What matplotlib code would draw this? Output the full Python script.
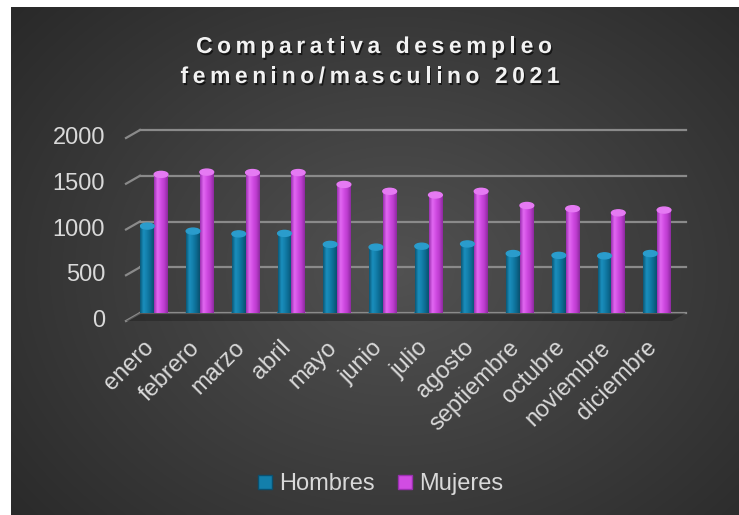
import numpy as np
import matplotlib
matplotlib.use("Agg")
import matplotlib.pyplot as plt
from matplotlib.patches import Ellipse
from matplotlib.lines import Line2D
from matplotlib.colors import LinearSegmentedColormap
import matplotlib.patheffects as pe
from matplotlib.transforms import offset_copy

plt.rcParams['font.family'] = ['Liberation Sans', 'DejaVu Sans']

# data
meses = ['enero', 'febrero', 'marzo', 'abril', 'mayo', 'junio', 'julio',
         'agosto', 'septiembre', 'octubre', 'noviembre', 'diciembre']
hombres = [950, 895, 865, 870, 750, 720, 730, 755, 650, 630, 625, 650]
mujeres = [1515, 1540, 1535, 1535, 1405, 1330, 1290, 1330, 1175, 1140, 1095, 1125]
yticks = [0, 500, 1000, 1500, 2000]
series = ['Hombres', 'Mujeres']

W, H = 739, 515
txt = '#d9d9d9'
fig = plt.figure(figsize=(W / 100, H / 100), dpi=100, facecolor='white')

# dark radial background
bg = fig.add_axes([11 / W, 0, (W - 11) / W, (H - 7) / H])
bg.axis('off')
yy, xx = np.mgrid[0:1:300j, 0:1:400j]
r = np.sqrt(((xx - 0.53) / 0.75) ** 2 + ((yy - 0.52) / 0.85) ** 2)
shade = np.clip(0.32 - 0.17 * r, 0.15, 0.33)
bg.imshow(np.dstack([shade] * 3), extent=[0, 1, 0, 1], aspect='auto', interpolation='bicubic')
bg.set_xlim(0, 1)
bg.set_ylim(0, 1)

ax = fig.add_axes([140 / W, (H - 313) / H, 546 / W, 183 / H])
ax.set_facecolor('none')
x0, x1 = -0.31, 11.63
ax.set_xlim(x0, x1)
ax.set_ylim(0, 2000)
for s in ax.spines.values():
    s.set_visible(False)

# size of one pixel in data units, for the fake 3d front edge
px_x = (x1 - x0) / 546
px_y = 2000 / 183
dx, dy = 14 * px_x, 8 * px_y

for v in yticks:
    ax.plot([x0, x1], [v, v], color='#8a8a8a', lw=1.6, zorder=1, clip_on=False)
    ax.plot([x0 - dx, x0], [v - dy, v], color='#8a8a8a', lw=1.6, zorder=1, clip_on=False)
    ax.text(x0 - 35 * px_x, v - dy, str(v), ha='right', va='center', fontsize=17, color=txt)

# floor shadow
ax.fill([x0 - dx, x0, x1, x1 - dx], [-dy, 0, 0, -dy], color='#1e1e1e', alpha=0.45,
        zorder=1.5, clip_on=False, lw=0)

cmaps = {
    'Hombres': LinearSegmentedColormap.from_list('h', ['#0b5877', '#1a8fbd', '#137fab', '#0c6a90', '#0a5070']),
    'Mujeres': LinearSegmentedColormap.from_list('m', ['#9a2fb0', '#e269f2', '#d14ce3', '#bb3ccd', '#8d2aa0']),
}
caps = {'Hombres': '#2a9ccc', 'Mujeres': '#e57af3'}

x = np.arange(len(meses))
w = 0.30
grad = np.linspace(0, 1, 64).reshape(1, -1)
for name, vals, off in [('Hombres', hombres, -w / 2), ('Mujeres', mujeres, w / 2)]:
    bars = ax.bar(x + off, vals, w, color='none', zorder=3)
    for b in bars:
        bx, bw, bh = b.get_x(), b.get_width(), b.get_height()
        im = ax.imshow(grad, extent=[bx, bx + bw, 0, bh], aspect='auto',
                       cmap=cmaps[name], zorder=3, interpolation='bilinear')
        im.set_clip_path(b)
        ax.add_patch(Ellipse((bx + bw / 2, bh), bw, 6 * px_y, color=caps[name], zorder=4))
        ax.add_patch(Ellipse((bx + bw / 2, 0), bw, 5 * px_y, color=cmaps[name](0.5), zorder=2.9))
ax.set_xlim(x0, x1)
ax.set_ylim(0, 2000)

ax.set_yticks([])
ax.set_xticks(x, meses, rotation=45, ha='right', fontsize=17, color=txt)
ax.tick_params(axis='x', length=0, pad=17)
for lab in ax.get_xticklabels():
    lab.set_transform(offset_copy(lab.get_transform(), fig=fig, x=4, y=0, units='dots'))

# title with letter spacing
def spaced_line(s, xc, y, gap, **kw):
    rend = fig.canvas.get_renderer()
    ts = [fig.text(0, 1 - y / H, c, va='baseline', ha='left', **kw) for c in s]
    ws = []
    for c, t in zip(s, ts):
        wd = t.get_window_extent(rend).width
        if c == ' ':
            wd = 0.28 * kw['fontsize'] * 100 / 72
        ws.append(wd)
    total = sum(ws) + gap * (len(s) - 1)
    pos = xc - total / 2
    for t, wd in zip(ts, ws):
        t.set_x(pos / W)
        pos += wd + gap

title_kw = dict(fontsize=16.5, fontweight='bold', color='#f2f2f2',
                path_effects=[pe.SimplePatchShadow(offset=(1, -1.5), shadow_rgbFace='black', alpha=0.6), pe.Normal()])
spaced_line('Comparativa desempleo', 374, 53, 4.6, **title_kw)
spaced_line('femenino/masculino 2021', 370, 83, 4.6, **title_kw)

handles = [Line2D([], [], ls='none', marker='s', markersize=9.5, markerfacecolor='#137fab', markeredgecolor='#0a5070'),
           Line2D([], [], ls='none', marker='s', markersize=9.5, markerfacecolor='#d14ce3', markeredgecolor='#9a2fb0')]
fig.legend(handles, series, loc='center', bbox_to_anchor=(380 / W, 1 - 484 / H), ncol=2, frameon=False,
           fontsize=17, labelcolor=txt, handlelength=0.7, handletextpad=0.25, columnspacing=0.9)

fig.savefig('out.png', dpi=100, facecolor='white')
